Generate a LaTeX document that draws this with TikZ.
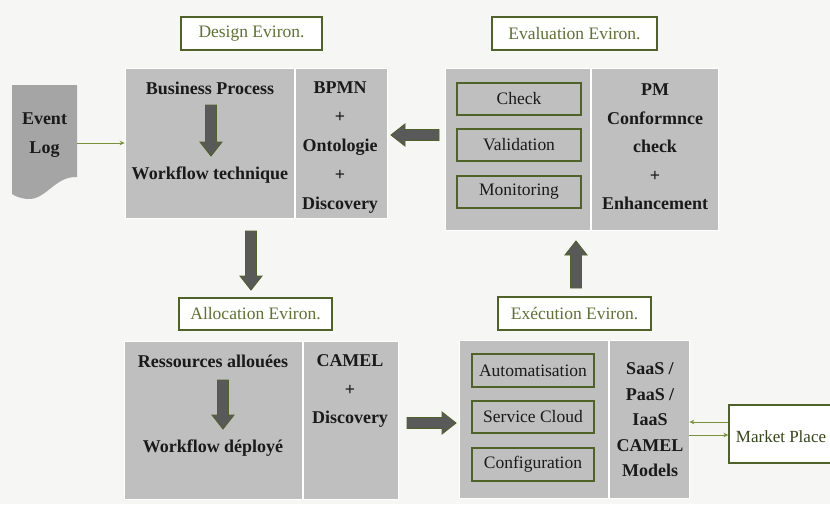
\documentclass[tikz,border=0pt]{standalone}
\usepackage{fontspec}
\setmainfont{Liberation Serif}
\usetikzlibrary{arrows.meta}
\definecolor{bgc}{HTML}{F6F6F5}
\definecolor{panelgray}{HTML}{BFBFBF}
\definecolor{docgray}{HTML}{A5A5A5}
\definecolor{arrgray}{HTML}{595959}
\definecolor{olive}{HTML}{4F6228}
\definecolor{olivetext}{HTML}{5E7232}
\definecolor{olivethin}{HTML}{77933C}
\definecolor{txt}{HTML}{1A1A1A}
\newcommand\blockarr[5]{% name, x, y, angle, length
\begin{scope}[shift={(#2,#3)},rotate=#4]
\draw[blockstyle] (0,-5.5) -- (#5-14,-5.5) -- (#5-14,-11) -- (#5,0) -- (#5-14,11) -- (#5-14,5.5) -- (0,5.5) -- cycle;
\coordinate (#1) at (#5/2,0);
\end{scope}}
\begin{document}
\begin{tikzpicture}[x=1pt,y=-1pt,
  panel/.style={fill=panelgray,draw=white,line width=0.8pt,inner sep=0pt},
  lblbox/.style={draw=olive,line width=1.3pt,fill=white,inner sep=0pt,text=olivetext,font=\fontsize{17.5}{20}\selectfont},
  innerbox/.style={draw=olive,line width=1.3pt,inner sep=0pt,text=txt,font=\fontsize{17.5}{20}\selectfont},
  boldtxt/.style={text=txt,font=\fontsize{18}{29}\bfseries\selectfont,align=center,inner sep=0pt},
  blockstyle/.style={fill=arrgray,draw=olive,line width=0.9pt},
  thinarr/.style={draw=olivethin,line width=0.9pt,-{Stealth[length=5pt,width=4.5pt]}}]
\useasboundingbox (0,0) rectangle (830,504);
\fill[bgc] (0,0) rectangle (830,504);

% Event log
\fill[docgray] (12,85) -- (77,85) -- (77,177) .. controls (55,176) and (46,200) .. (28,199) .. controls (20,198.5) and (15,196) .. (12,194) -- cycle;
\node[boldtxt,minimum width=65pt] (evlog) at (44.5,135.5) {Event\\Log};

% Design
\node[lblbox,minimum width=141pt,minimum height=33pt] (dlbl) at (251.5,33.5) {Design Eviron.};
\node[panel,minimum width=169pt,minimum height=150pt] (dleft) at (209.5,143) {};
\node[panel,minimum width=92pt,minimum height=150pt] (dright) at (341,143) {};
\node[boldtxt] (bp) at (210,88) {Business Process};
\node[boldtxt] (wt) at (210,175) {Workflow technique};
\node[boldtxt] (dtxt) at (340,148) {BPMN\\+\\Ontologie\\+\\Discovery};
\blockarr{a1}{211}{105}{-90}{51}

% Evaluation
\node[lblbox,minimum width=165pt,minimum height=33pt] (elbl) at (574.5,33.5) {Evaluation Eviron.};
\node[panel,minimum width=145pt,minimum height=162pt] (eleft) at (517.5,149) {};
\node[panel,minimum width=127pt,minimum height=162pt] (eright) at (654.5,149) {};
\node[innerbox,minimum width=124pt,minimum height=32pt] (check) at (519,99) {Check};
\node[innerbox,minimum width=124pt,minimum height=32pt] (valid) at (519,145) {Validation};
\node[innerbox,minimum width=124pt,minimum height=32pt] (monit) at (519,192) {Monitoring};
\node[boldtxt,font=\fontsize{18}{28.5}\bfseries\selectfont] (etxt) at (655,147) {PM\\Conformnce\\check\\+\\Enhancement};

% Allocation
\node[lblbox,minimum width=153pt,minimum height=32pt] (albl) at (255.5,314) {Allocation Eviron.};
\node[panel,minimum width=178pt,minimum height=158pt] (aleft) at (213,420) {};
\node[panel,minimum width=95pt,minimum height=158pt] (aright) at (350.5,420) {};
\node[boldtxt] (ra) at (213,361) {Ressources allouées};
\node[boldtxt] (wd) at (213,448) {Workflow déployé};
\node[boldtxt,font=\fontsize{18}{28.5}\bfseries\selectfont] (atxt) at (350,391) {CAMEL\\+\\Discovery};
\blockarr{a2}{223}{380}{-90}{49}

% Execution
\node[lblbox,minimum width=153pt,minimum height=33pt] (xlbl) at (574.5,313.5) {Exécution Eviron.};
\node[panel,minimum width=149pt,minimum height=158pt] (xleft) at (533.5,419) {};
\node[panel,minimum width=80pt,minimum height=158pt] (xright) at (649,419) {};
\node[innerbox,minimum width=122pt,minimum height=33pt] (auto) at (533,370.5) {Automatisation};
\node[innerbox,minimum width=122pt,minimum height=32pt] (scloud) at (533,417) {Service Cloud};
\node[innerbox,minimum width=122pt,minimum height=33pt] (config) at (533,464.5) {Configuration};
\node[boldtxt,font=\fontsize{18}{25.5}\bfseries\selectfont] (xtxt) at (650,420) {SaaS /\\PaaS /\\IaaS\\CAMEL\\Models};

% Market place
\node[draw=olive,line width=1.3pt,fill=white,minimum width=116pt,minimum height=58pt,inner sep=0pt] (market) at (787,434) {};
\node[text=olive!70!black,font=\fontsize{17}{20}\selectfont,inner sep=0pt] (mtxt) at (781,437) {Market Place};

% Block arrows between environments
\blockarr{a3}{439}{135}{180}{48}
\blockarr{a4}{251}{231}{-90}{59}
\blockarr{a5}{576}{288}{90}{47}
\blockarr{a6}{407}{423}{0}{49}

% Thin connectors
\draw[thinarr] (evlog.east |- dleft.west) -- (dleft.west);
\draw[thinarr] ([yshift=12pt]market.west) -- ([yshift=12pt]market.west -| xright.east);
\draw[thinarr] ([yshift=-1pt]market.west -| xright.east) -- ([yshift=-1pt]market.west);
\end{tikzpicture}
\end{document}
